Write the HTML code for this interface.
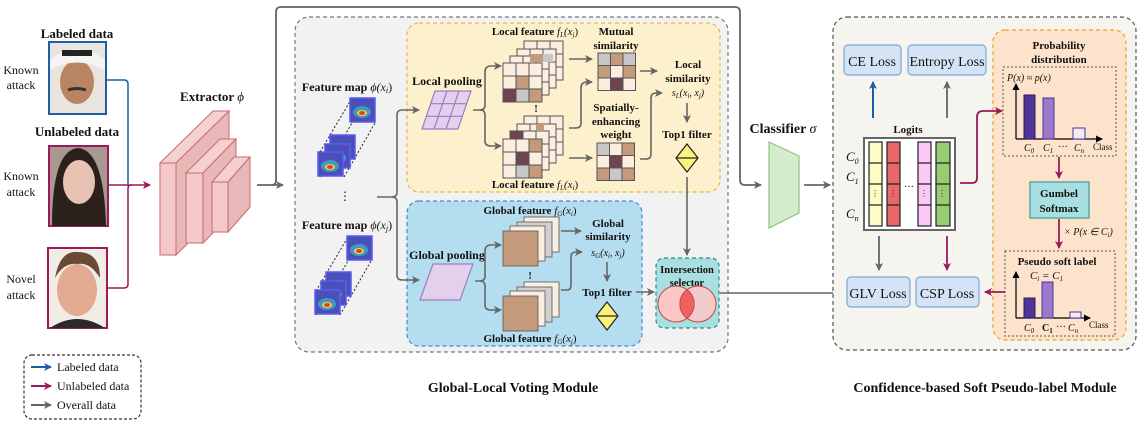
<!DOCTYPE html>
<html><head><meta charset="utf-8"><style>
html,body{margin:0;padding:0;background:#fff}
svg{display:block}
text{font-family:"Liberation Serif",serif;fill:#111}
.b{font-weight:bold}
</style></head><body>
<svg width="1146" height="430" viewBox="0 0 1146 430" xmlns="http://www.w3.org/2000/svg">
<defs>
<marker id="ag" markerWidth="8" markerHeight="8" refX="7" refY="4" orient="auto" markerUnits="userSpaceOnUse"><path d="M0,0 L8,4 L0,8 L2,4z" fill="#666"/></marker>
<marker id="ab" markerWidth="8" markerHeight="8" refX="7" refY="4" orient="auto" markerUnits="userSpaceOnUse"><path d="M0,0 L8,4 L0,8 L2,4z" fill="#1c5fa8"/></marker>
<marker id="am" markerWidth="8" markerHeight="8" refX="7" refY="4" orient="auto" markerUnits="userSpaceOnUse"><path d="M0,0 L8,4 L0,8 L2,4z" fill="#9b1a5a"/></marker>
<marker id="ak" markerWidth="7" markerHeight="7" refX="6" refY="3.5" orient="auto" markerUnits="userSpaceOnUse"><path d="M0,0 L7,3.5 L0,7z" fill="#000"/></marker>
<g id="cg">
<rect x="0" y="0" width="39" height="39" fill="#fbeee0" stroke="#555" stroke-width="1"/>
<path d="M13,0V39M26,0V39M0,13H39M0,26H39" stroke="#555" stroke-width="1"/>
</g>
<g id="hm">
<rect x="0" y="0" width="25" height="24" fill="#4b4fb8" stroke="#5a5af0" stroke-width="1.5"/>
<ellipse cx="12" cy="14" rx="9" ry="6" fill="#3fb6c8" opacity=".7"/>
<ellipse cx="12" cy="15" rx="5" ry="3" fill="#e8d84a"/>
<ellipse cx="12" cy="15" rx="3" ry="2" fill="#e04030"/>
</g>
<g id="gq">
<rect x="21" y="-14" width="35" height="35" fill="#fbeee0" stroke="#555" stroke-width=".8"/>
<rect x="14" y="-9" width="35" height="35" fill="#d0d0d0" stroke="#555" stroke-width=".8"/>
<rect x="7" y="-5" width="35" height="35" fill="#fbeee0" stroke="#555" stroke-width=".8"/>
<rect x="0" y="0" width="35" height="35" fill="#c49a7c" stroke="#555" stroke-width=".8"/>
</g>
</defs>

<!-- faces -->
<rect x="49" y="42" width="57" height="72" fill="#e9e4de" stroke="#1c5fa8" stroke-width="2"/>
<ellipse cx="77" cy="82" rx="17" ry="22" fill="#b98463"/>
<path d="M50,60 Q77,38 105,60 L105,70 Q77,55 50,70z" fill="#f4f4f4"/>
<rect x="62" y="50" width="30" height="6" fill="#222"/>
<path d="M68,90 Q77,87 86,90" stroke="#333" stroke-width="3" fill="none"/>
<rect x="49" y="146" width="59" height="80" fill="#a89890" stroke="#9b1a5a" stroke-width="2"/>
<path d="M52,226 Q52,150 78,148 Q104,150 106,226z" fill="#2b201c"/>
<ellipse cx="79" cy="182" rx="16" ry="22" fill="#e8c3b4"/>
<rect x="48" y="248" width="59" height="80" fill="#f2ece6" stroke="#9b1a5a" stroke-width="2"/>
<ellipse cx="77" cy="290" rx="20" ry="26" fill="#e3aa92"/>
<path d="M55,278 Q60,250 78,252 Q100,252 100,278 Q90,262 78,264 Q64,262 55,278z" fill="#6a4a32"/>
<path d="M50,328 Q77,310 105,328z" fill="#2a2a2a"/>

<text x="77" y="38" text-anchor="middle" class="b" font-size="13">Labeled data</text>
<text x="77" y="136" text-anchor="middle" class="b" font-size="13">Unlabeled data</text>
<text x="21" y="74" text-anchor="middle" font-size="12">Known</text>
<text x="21" y="89" text-anchor="middle" font-size="12">attack</text>
<text x="21" y="180" text-anchor="middle" font-size="12">Known</text>
<text x="21" y="196" text-anchor="middle" font-size="12">attack</text>
<text x="21" y="283" text-anchor="middle" font-size="12">Novel</text>
<text x="21" y="299" text-anchor="middle" font-size="12">attack</text>

<path d="M106,80 H124 Q128,80 128,84 V185" stroke="#1c5fa8" stroke-width="1.5" fill="none"/>
<path d="M108,185 H150" stroke="#9b1a5a" stroke-width="1.5" fill="none" marker-end="url(#am)"/>
<path d="M107,288 H124 Q128,288 128,284 V188 Q128,185 132,185" stroke="#9b1a5a" stroke-width="1.5" fill="none"/>

<!-- extractor -->
<text x="212" y="101" text-anchor="middle" class="b" font-size="13">Extractor <tspan font-style="italic" font-weight="normal">ϕ</tspan></text>
<g stroke="#c96a6a" stroke-width="1" fill="#f2c4c4">
<path d="M160,163 L213,111 L229,111 L176,163z" fill="#f5d0d0"/>
<path d="M176,163 L229,111 L229,203 L176,255z" fill="#e8b8b8"/>
<rect x="160" y="163" width="16" height="92" fill="#f4c8c8"/>
<path d="M186,173 L220,139 L236,139 L203,173z" fill="#f5d0d0"/>
<path d="M203,173 L236,139 L236,209 L203,243z" fill="#e8b8b8"/>
<rect x="186" y="173" width="17" height="70" fill="#f4c8c8"/>
<path d="M212,182 L234,157 L250,157 L228,182z" fill="#f5d0d0"/>
<path d="M228,182 L250,157 L250,207 L228,232z" fill="#e8b8b8"/>
<rect x="212" y="182" width="16" height="50" fill="#f4c8c8"/>
</g>

<!-- top route -->
<path d="M257,185 H283" stroke="#666" stroke-width="1.8" fill="none" marker-end="url(#ag)"/>
<path d="M272,185 Q276,185 276,180 V12 Q276,7 281,7 H735 Q740,7 740,12 V180 Q740,185 745,185 H761" stroke="#666" stroke-width="1.8" fill="none" marker-end="url(#ag)"/>

<!-- GLV module -->
<rect x="295" y="17" width="433" height="335" rx="14" fill="#f2f2f2" stroke="#777" stroke-width="1.2" stroke-dasharray="4,3"/>
<rect x="407" y="23" width="313" height="169" rx="12" fill="#fdf0cc" stroke="#e8b84a" stroke-width="1.2" stroke-dasharray="4,3"/>
<rect x="407" y="201" width="235" height="145" rx="12" fill="#b5ddf0" stroke="#3a8ad6" stroke-width="1.2" stroke-dasharray="4,3"/>

<text x="347" y="91" text-anchor="middle" class="b" font-size="12">Feature map <tspan font-style="italic" font-weight="normal">ϕ(x</tspan><tspan font-style="italic" font-weight="normal" font-size="8" dy="2">i</tspan><tspan font-weight="normal" dy="-2">)</tspan></text>
<text x="347" y="229" text-anchor="middle" class="b" font-size="12">Feature map <tspan font-style="italic" font-weight="normal">ϕ(x</tspan><tspan font-style="italic" font-weight="normal" font-size="8" dy="2">j</tspan><tspan font-weight="normal" dy="-2">)</tspan></text>
<g stroke="#222" stroke-width="1" stroke-dasharray="2,2">
<path d="M320,177 L352,123 M344,177 L375,123 M320,152 L352,98"/>
<path d="M316,315 L348,261 M340,315 L371,261 M316,291 L348,237"/>
</g>
<use href="#hm" x="350" y="98"/>
<use href="#hm" x="330" y="135"/><use href="#hm" x="325" y="144"/><use href="#hm" x="318" y="152"/>
<use href="#hm" x="347" y="236"/>
<use href="#hm" x="326" y="272"/><use href="#hm" x="321" y="281"/><use href="#hm" x="315" y="290"/>
<text x="345" y="200" text-anchor="middle" font-size="12">⋮</text>

<path d="M377,197 H392 Q397,197 397,192 V115 Q397,110 402,110 H419" stroke="#666" stroke-width="1.6" fill="none" marker-end="url(#ag)"/>
<path d="M392,197 Q397,197 397,202 V275 Q397,280 402,280 H419" stroke="#666" stroke-width="1.6" fill="none" marker-end="url(#ag)"/>

<!-- local pooling -->
<text x="447" y="85" text-anchor="middle" class="b" font-size="12">Local pooling</text>
<path d="M422,129 L435,91 L471,91 L458,129z" fill="#e2d0ec" stroke="#9e7cc0" stroke-width="1.2"/>
<path d="M426.3,116.3 L462.3,116.3 M430.7,103.7 L466.7,103.7 M434,129 L447,91 M446,129 L459,91" stroke="#9e7cc0" stroke-width="1.2"/>
<path d="M473,110 H480 Q485,110 485,105 V72 Q485,66 491,66 H501" stroke="#666" stroke-width="1.6" fill="none" marker-end="url(#ag)"/>
<path d="M480,110 Q485,110 485,115 V141 Q485,146 491,146 H501" stroke="#666" stroke-width="1.6" fill="none" marker-end="url(#ag)"/>

<!-- local grids -->
<text x="535" y="35" text-anchor="middle" class="b" font-size="11">Local feature <tspan font-style="italic" font-weight="normal">f</tspan><tspan font-style="italic" font-weight="normal" font-size="7" dy="2">L</tspan><tspan font-style="italic" font-weight="normal" dy="-2">(x</tspan><tspan font-style="italic" font-weight="normal" font-size="7" dy="2">j</tspan><tspan font-weight="normal" dy="-2">)</tspan></text>
<use href="#cg" x="524" y="41"/><use href="#cg" x="517" y="49"/><use href="#cg" x="510" y="56"/><use href="#cg" x="503" y="63"/>
<rect x="530" y="54" width="13" height="8" fill="#c49a7c"/><rect x="543" y="54" width="10" height="8" fill="#c7c7c7"/>
<rect x="516" y="76" width="13" height="13" fill="#c49a7c" stroke="#555"/>
<rect x="503" y="89" width="13" height="13" fill="#6e4450" stroke="#555"/>
<rect x="516" y="89" width="13" height="13" fill="#c7c7c7" stroke="#555"/>
<rect x="529" y="89" width="13" height="13" fill="#c49a7c" stroke="#555"/>
<text x="536" y="112" text-anchor="middle" class="b" font-size="10">!</text>
<use href="#cg" x="524" y="116"/><use href="#cg" x="517" y="124"/><use href="#cg" x="510" y="131"/><use href="#cg" x="503" y="139"/>
<rect x="510" y="131" width="13" height="8" fill="#6e4450"/><rect x="536" y="124" width="8" height="7" fill="#c49a7c"/>
<rect x="529" y="139" width="13" height="13" fill="#c49a7c" stroke="#555"/>
<rect x="516" y="152" width="13" height="13" fill="#6e4450" stroke="#555"/>
<rect x="516" y="165" width="13" height="13" fill="#c7c7c7" stroke="#555"/>
<rect x="529" y="165" width="13" height="13" fill="#c49a7c" stroke="#555"/>
<text x="535" y="188" text-anchor="middle" class="b" font-size="11">Local feature <tspan font-style="italic" font-weight="normal">f</tspan><tspan font-style="italic" font-weight="normal" font-size="7" dy="2">L</tspan><tspan font-style="italic" font-weight="normal" dy="-2">(x</tspan><tspan font-style="italic" font-weight="normal" font-size="7" dy="2">i</tspan><tspan font-weight="normal" dy="-2">)</tspan></text>

<path d="M569,59 H592" stroke="#666" stroke-width="1.6" marker-end="url(#ag)"/>
<path d="M569,158 H592" stroke="#666" stroke-width="1.6" marker-end="url(#ag)"/>
<path d="M569,128 H576 Q581,128 581,123 V88 Q581,82 587,82 H592" stroke="#666" stroke-width="1.6" fill="none" marker-end="url(#ag)"/>

<text x="616" y="35" text-anchor="middle" class="b" font-size="11">Mutual</text>
<text x="616" y="49" text-anchor="middle" class="b" font-size="11">similarity</text>
<g stroke="#555" stroke-width="1">
<rect x="598" y="53" width="12.5" height="12.5" fill="#c7c7c7"/><rect x="610.5" y="53" width="12.5" height="12.5" fill="#c49a7c"/><rect x="623" y="53" width="12.5" height="12.5" fill="#c7c7c7"/>
<rect x="598" y="65.5" width="12.5" height="12.5" fill="#c49a7c"/><rect x="610.5" y="65.5" width="12.5" height="12.5" fill="#fbeee0"/><rect x="623" y="65.5" width="12.5" height="12.5" fill="#c49a7c"/>
<rect x="598" y="78" width="12.5" height="12.5" fill="#fbeee0"/><rect x="610.5" y="78" width="12.5" height="12.5" fill="#6e4450"/><rect x="623" y="78" width="12.5" height="12.5" fill="#fbeee0"/>
</g>
<text x="616" y="111" text-anchor="middle" class="b" font-size="11">Spatially-</text>
<text x="616" y="125" text-anchor="middle" class="b" font-size="11">enhancing</text>
<text x="616" y="138" text-anchor="middle" class="b" font-size="11">weight</text>
<g stroke="#555" stroke-width="1">
<rect x="597" y="143" width="12.5" height="12.5" fill="#c7c7c7"/><rect x="609.5" y="143" width="12.5" height="12.5" fill="#fbeee0"/><rect x="622" y="143" width="12.5" height="12.5" fill="#c49a7c"/>
<rect x="597" y="155.5" width="12.5" height="12.5" fill="#fbeee0"/><rect x="609.5" y="155.5" width="12.5" height="12.5" fill="#6e4450"/><rect x="622" y="155.5" width="12.5" height="12.5" fill="#fbeee0"/>
<rect x="597" y="168" width="12.5" height="12.5" fill="#c49a7c"/><rect x="609.5" y="168" width="12.5" height="12.5" fill="#c7c7c7"/><rect x="622" y="168" width="12.5" height="12.5" fill="#c49a7c"/>
</g>
<path d="M640,71 H657" stroke="#666" stroke-width="1.6" marker-end="url(#ag)"/>
<path d="M640,159 H646 Q651,159 651,154 V98 Q651,93 656,93 H662" stroke="#666" stroke-width="1.6" fill="none" marker-end="url(#ag)"/>
<text x="688" y="68" text-anchor="middle" class="b" font-size="11">Local</text>
<text x="688" y="82" text-anchor="middle" class="b" font-size="11">similarity</text>
<text x="688" y="96" text-anchor="middle" font-size="10" font-style="italic">s<tspan font-size="7" dy="2">L</tspan><tspan dy="-2">(x</tspan><tspan font-size="7" dy="2">i</tspan><tspan dy="-2">, x</tspan><tspan font-size="7" dy="2">j</tspan><tspan dy="-2">)</tspan></text>
<path d="M687,103 V122" stroke="#666" stroke-width="1.6" marker-end="url(#ag)"/>
<text x="687" y="138" text-anchor="middle" class="b" font-size="11">Top1 filter</text>
<path d="M687,144 L698,158 L687,172 L676,158z" fill="#fbf27a" stroke="#222" stroke-width="1.2"/>
<path d="M676,158 H698" stroke="#222" stroke-width="1.2"/>
<path d="M687,177 V255" stroke="#666" stroke-width="1.6" marker-end="url(#ag)"/>

<!-- global -->
<text x="447" y="259" text-anchor="middle" class="b" font-size="12">Global pooling</text>
<path d="M420,300 L433,264 L473,264 L460,300z" fill="#e2d0ec" stroke="#9e7cc0" stroke-width="1.2"/>
<path d="M475,281 H480 Q485,281 485,276 V251 Q485,245 491,245 H501" stroke="#666" stroke-width="1.6" fill="none" marker-end="url(#ag)"/>
<path d="M480,281 Q485,281 485,286 V305 Q485,310 491,310 H501" stroke="#666" stroke-width="1.6" fill="none" marker-end="url(#ag)"/>
<text x="530" y="214" text-anchor="middle" class="b" font-size="11">Global feature <tspan font-style="italic" font-weight="normal">f</tspan><tspan font-style="italic" font-weight="normal" font-size="7" dy="2">G</tspan><tspan font-style="italic" font-weight="normal" dy="-2">(x</tspan><tspan font-style="italic" font-weight="normal" font-size="7" dy="2">i</tspan><tspan font-weight="normal" dy="-2">)</tspan></text>
<use href="#gq" x="503" y="231"/>
<text x="530" y="279" text-anchor="middle" class="b" font-size="10">!</text>
<use href="#gq" x="503" y="296"/>
<text x="530" y="342" text-anchor="middle" class="b" font-size="11">Global feature <tspan font-style="italic" font-weight="normal">f</tspan><tspan font-style="italic" font-weight="normal" font-size="7" dy="2">G</tspan><tspan font-style="italic" font-weight="normal" dy="-2">(x</tspan><tspan font-style="italic" font-weight="normal" font-size="7" dy="2">j</tspan><tspan font-weight="normal" dy="-2">)</tspan></text>
<path d="M561,231 H581" stroke="#666" stroke-width="1.6" marker-end="url(#ag)"/>
<path d="M561,290 H567 Q571,290 571,285 V257 Q571,252 576,252 H582" stroke="#666" stroke-width="1.6" fill="none" marker-end="url(#ag)"/>
<text x="608" y="227" text-anchor="middle" class="b" font-size="11">Global</text>
<text x="608" y="240" text-anchor="middle" class="b" font-size="11">similarity</text>
<text x="608" y="256" text-anchor="middle" font-size="10" font-style="italic">s<tspan font-size="7" dy="2">G</tspan><tspan dy="-2">(x</tspan><tspan font-size="7" dy="2">i</tspan><tspan dy="-2">, x</tspan><tspan font-size="7" dy="2">j</tspan><tspan dy="-2">)</tspan></text>
<path d="M607,262 V281" stroke="#666" stroke-width="1.6" marker-end="url(#ag)"/>
<text x="607" y="296" text-anchor="middle" class="b" font-size="11">Top1 filter</text>
<path d="M607,302 L618,316 L607,330 L596,316z" fill="#fbf27a" stroke="#222" stroke-width="1.2"/>
<path d="M596,316 H618" stroke="#222" stroke-width="1.2"/>
<path d="M636,292 H654" stroke="#666" stroke-width="1.6" marker-end="url(#ag)"/>

<rect x="656" y="258" width="63" height="70" rx="8" fill="#a9dfe0" stroke="#2a8a8a" stroke-width="1.2" stroke-dasharray="4,3"/>
<text x="687" y="273" text-anchor="middle" class="b" font-size="10.5">Intersection</text>
<text x="687" y="286" text-anchor="middle" class="b" font-size="10.5">selector</text>
<circle cx="676" cy="304" r="18" fill="#fcc6c6" stroke="#c04848" stroke-width="1"/>
<circle cx="698" cy="304" r="18" fill="#fcc6c6" stroke="#c04848" stroke-width="1" fill-opacity=".9"/>
<path d="M687,289.7 A18,18 0 0 1 687,318.3 A18,18 0 0 1 687,289.7z" fill="#f06060" stroke="#c04848"/>
<path d="M720,293 H842" stroke="#666" stroke-width="1.6" marker-end="url(#ag)"/>

<!-- classifier -->
<text x="783" y="133" text-anchor="middle" class="b" font-size="14">Classifier <tspan font-style="italic" font-weight="normal">σ</tspan></text>
<path d="M769,142 L799,156 L799,213 L769,228z" fill="#d6eccf" stroke="#8cc47c" stroke-width="1.2"/>
<path d="M804,185 H830" stroke="#666" stroke-width="1.8" marker-end="url(#ag)"/>

<!-- CSP module -->
<rect x="833" y="17" width="303" height="333" rx="14" fill="#f6f4ee" stroke="#555" stroke-width="1.2" stroke-dasharray="4,3"/>
<rect x="993" y="30" width="133" height="310" rx="12" fill="#fde3cc" stroke="#eab040" stroke-width="1.4" stroke-dasharray="4,3"/>
<g fill="#d4e4f6" stroke="#7fa7d6" stroke-width="1.2">
<rect x="844" y="45" width="57" height="30" rx="4"/>
<rect x="908" y="45" width="78" height="30" rx="4"/>
<rect x="847" y="277" width="63" height="30" rx="4"/>
<rect x="916" y="277" width="63" height="30" rx="4"/>
</g>
<text x="872" y="66" text-anchor="middle" font-size="14">CE Loss</text>
<text x="947" y="66" text-anchor="middle" font-size="14">Entropy Loss</text>
<text x="878" y="298" text-anchor="middle" font-size="14">GLV Loss</text>
<text x="947" y="298" text-anchor="middle" font-size="14">CSP Loss</text>
<path d="M873,118 V82" stroke="#1c5fa8" stroke-width="2" marker-end="url(#ab)"/>
<path d="M947,118 V82" stroke="#666" stroke-width="1.8" marker-end="url(#ag)"/>
<path d="M879,236 V270" stroke="#666" stroke-width="1.8" marker-end="url(#ag)"/>
<path d="M947,236 V270" stroke="#9b1a5a" stroke-width="1.8" marker-end="url(#am)"/>

<text x="908" y="133" text-anchor="middle" class="b" font-size="11">Logits</text>
<rect x="864" y="138" width="91" height="92" fill="#fff" stroke="#666" stroke-width="2"/>
<g stroke="#222" stroke-width="1.2">
<rect x="869" y="142" width="13" height="84" fill="#fdfcc4"/>
<rect x="887" y="142" width="13" height="84" fill="#e86868"/>
<rect x="918" y="142" width="13" height="84" fill="#fcc8f8"/>
<rect x="936" y="142" width="14" height="84" fill="#98cc70"/>
<path d="M869,163H882M869,184H882M869,205H882M887,163H900M887,184H900M887,205H900M918,163H931M918,184H931M918,205H931M936,163H950M936,184H950M936,205H950"/>
</g>
<g fill="#3050a0" font-size="8"><text x="871" y="196">⋮</text><text x="889" y="196">⋮</text><text x="920" y="196">⋮</text><text x="938" y="196">⋮</text></g>
<text x="909" y="190" text-anchor="middle" font-size="10">···</text>
<g font-style="italic" font-size="13"><text x="846" y="161">C<tspan font-size="8" dy="3">0</tspan></text><text x="846" y="181">C<tspan font-size="8" dy="3">1</tspan></text><text x="846" y="218">C<tspan font-size="8" dy="3">n</tspan></text></g>

<path d="M960,183 H972 Q977,183 977,178 V117 Q977,111 983,111 H1002" stroke="#9b1a5a" stroke-width="1.8" fill="none" marker-end="url(#am)"/>

<text x="1059" y="49" text-anchor="middle" class="b" font-size="11">Probability</text>
<text x="1059" y="63" text-anchor="middle" class="b" font-size="11">distribution</text>
<rect x="1003" y="67" width="113" height="89" fill="none" stroke="#555" stroke-width="1" stroke-dasharray="2,2"/>
<text x="1007" y="81" font-size="10" font-style="italic">P(x) ≈ p(x)</text>
<path d="M1016,139 V84" stroke="#000" stroke-width="1.2" marker-end="url(#ak)"/>
<path d="M1016,139 H1102" stroke="#000" stroke-width="1.2" marker-end="url(#ak)"/>
<rect x="1024" y="95" width="11" height="44" fill="#4f3596" stroke="#2a1a5a"/>
<rect x="1043" y="98" width="11" height="41" fill="#9a78cc" stroke="#4f3596"/>
<rect x="1073" y="128" width="12" height="11" fill="#f4eaf2" stroke="#4f3596"/>
<g font-size="10"><text x="1024" y="151" font-style="italic">C<tspan font-size="7" dy="2">0</tspan></text><text x="1043" y="151" font-style="italic">C<tspan font-size="7" dy="2">1</tspan></text><text x="1058" y="150">···</text><text x="1074" y="151" font-style="italic">C<tspan font-size="7" dy="2">n</tspan></text><text x="1093" y="150" font-size="9">Class</text></g>
<path d="M1059,157 V178" stroke="#9b1a5a" stroke-width="1.8" marker-end="url(#am)"/>
<rect x="1030" y="182" width="59" height="36" fill="#a8dfe0" stroke="#3a9a9a" stroke-width="1.2"/>
<text x="1059" y="197" text-anchor="middle" class="b" font-size="11">Gumbel</text>
<text x="1059" y="212" text-anchor="middle" class="b" font-size="11">Softmax</text>
<path d="M1059,219 V248" stroke="#9b1a5a" stroke-width="1.8" marker-end="url(#am)"/>
<text x="1064" y="235" font-size="10" font-style="italic">× P(x ∈ C<tspan font-size="7" dy="2">i</tspan><tspan dy="-2">)</tspan></text>
<rect x="1005" y="251" width="110" height="85" fill="none" stroke="#555" stroke-width="1" stroke-dasharray="2,2"/>
<text x="1057" y="265" text-anchor="middle" class="b" font-size="11">Pseudo soft label</text>
<text x="1030" y="279" font-size="11" font-style="italic">C<tspan font-size="7" dy="2">i</tspan><tspan dy="-2"> = C</tspan><tspan font-size="7" dy="2">1</tspan></text>
<path d="M1016,318 V272" stroke="#000" stroke-width="1.2" marker-end="url(#ak)"/>
<path d="M1016,318 H1090" stroke="#000" stroke-width="1.2" marker-end="url(#ak)"/>
<rect x="1024" y="298" width="11" height="20" fill="#4f3596" stroke="#2a1a5a"/>
<rect x="1042" y="282" width="11" height="36" fill="#9a78cc" stroke="#4f3596"/>
<rect x="1070" y="312" width="11" height="6" fill="#f4eaf2" stroke="#4f3596"/>
<g font-size="10"><text x="1024" y="331" font-style="italic">C<tspan font-size="7" dy="2">0</tspan></text><text x="1042" y="331" font-weight="bold">C<tspan font-size="7" dy="2">1</tspan></text><text x="1056" y="330">···</text><text x="1068" y="331" font-style="italic">C<tspan font-size="7" dy="2">n</tspan></text><text x="1089" y="328" font-size="9">Class</text></g>
<path d="M1005,292 H985" stroke="#9b1a5a" stroke-width="1.8" marker-end="url(#am)"/>

<!-- legend -->
<rect x="24" y="355" width="117" height="64" rx="8" fill="#fff" stroke="#333" stroke-width="1.2" stroke-dasharray="3,2"/>
<path d="M31,367 H51" stroke="#1c5fa8" stroke-width="2" marker-end="url(#ab)"/>
<path d="M31,386 H51" stroke="#9b1a5a" stroke-width="2" marker-end="url(#am)"/>
<path d="M31,405 H51" stroke="#666" stroke-width="2" marker-end="url(#ag)"/>
<text x="57" y="371" font-size="12">Labeled data</text>
<text x="57" y="390" font-size="12">Unlabeled data</text>
<text x="57" y="409" font-size="12">Overall data</text>

<text x="513" y="392" text-anchor="middle" class="b" font-size="14">Global-Local Voting Module</text>
<text x="985" y="392" text-anchor="middle" class="b" font-size="14">Confidence-based Soft Pseudo-label Module</text>
</svg>
</body></html>
